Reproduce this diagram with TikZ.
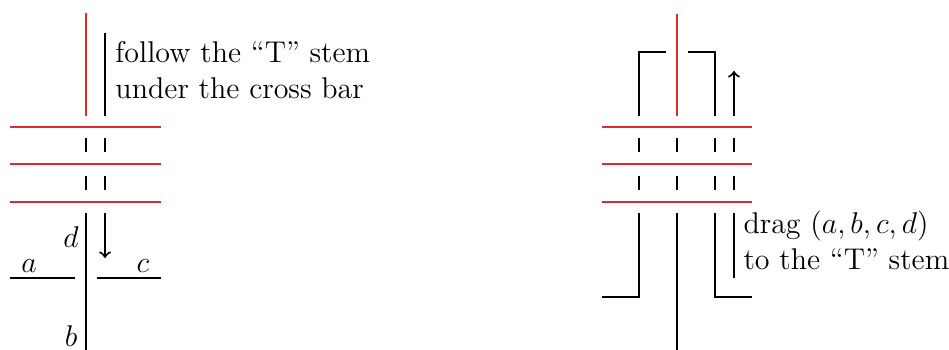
\documentclass[tikz,border=0pt]{standalone}
\usepackage{xcolor}
\definecolor{barred}{RGB}{220,45,45}
\begin{document}
\begin{tikzpicture}[x=0.4pt,y=-0.4pt,
  strand/.style={line width=0.8pt,black},
  crossbar/.style={line width=0.8pt,barred},
  note/.style={anchor=base west,align=left,inner sep=0pt,font=\fontsize{12}{14.4}\selectfont},
  lbl/.style={inner sep=0pt,font=\fontsize{12}{14.4}\selectfont}]
\useasboundingbox (0,0) rectangle (949,350);

% ---------- left: the strands before the move ----------
% cross bar (three red strands)
\foreach \y in {127,164,202}
  \draw[crossbar] (10,\y) -- (161,\y);
% the red "T" stem above the bar
\draw[crossbar] (86,13) -- (86,116);
% black strand guiding the note
\draw[strand] (105,33) -- (105,116);
% strands passing under the bar
\foreach \x in {86,105}{
  \draw[strand] (\x,138) -- (\x,152);
  \draw[strand] (\x,176) -- (\x,190);
}
% the crossing below the bar
\draw[strand] (86,213) -- (86,350);
\draw[strand,->] (105,213) -- (105,258);
\draw[strand] (10,278) -- (75,278);
\draw[strand] (97,278) -- (161,278);
\node[lbl] (la) at (29,266) {$a$};
\node[lbl] (lb) at (71,336) {$b$};
\node[lbl] (lc) at (143,266) {$c$};
\node[lbl] (ld) at (71,237) {$d$};
\node[note] (follow) at (115,99) {follow the ``T'' stem\\under the cross bar};

% ---------- right: the strands after the move ----------
\foreach \y in {127,164,202}
  \draw[crossbar] (602,\y) -- (752,\y);
\draw[crossbar] (677,14) -- (677,116);
% strands bent over the top
\draw[strand] (639,116) -- (639,52) -- (666,52);
\draw[strand] (688,52) -- (715,52) -- (715,116);
\draw[strand,->] (734,116) -- (734,71);
% strands under the bar
\foreach \x in {639,677,715,734}{
  \draw[strand] (\x,138) -- (\x,152);
  \draw[strand] (\x,176) -- (\x,190);
}
% strands below the bar
\draw[strand] (639,213) -- (639,297) -- (602,297);
\draw[strand] (677,213) -- (677,350);
\draw[strand] (715,213) -- (715,297) -- (752,297);
\draw[strand] (734,213) -- (734,278);
\node[note] (drag) at (743,270) {drag $(a,b,c,d)$\\to the ``T'' stem};
\end{tikzpicture}
\end{document}
